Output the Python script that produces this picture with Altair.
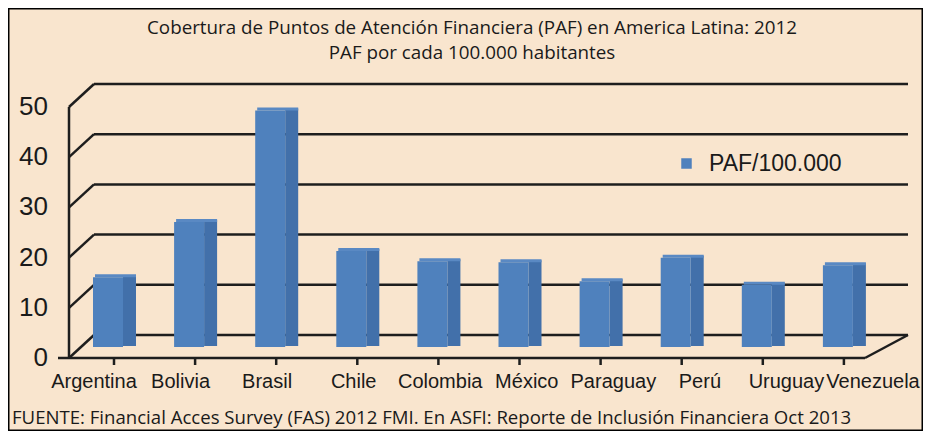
import altair as alt
import pandas as pd

# ---------------- data ----------------
paises = ["Argentina", "Bolivia", "Brasil", "Chile", "Colombia",
          "México", "Paraguay", "Perú", "Uruguay", "Venezuela"]
valores = [13.9, 24.9, 47.1, 19.1, 17.1, 16.9, 13.1, 17.8, 12.4, 16.3]
serie = "PAF/100.000"
y_ticks = [0, 10, 20, 30, 40, 50]
titulo_1 = "Cobertura de Puntos de Atención Financiera (PAF) en America Latina: 2012"
titulo_2 = "PAF por cada 100.000 habitantes"
fuente = "FUENTE: Financial Acces Survey (FAS) 2012 FMI. En ASFI: Reporte de Inclusión Financiera Oct 2013"

bars_df = pd.DataFrame({"pais": paises, "valor": valores,
                        "idx": list(range(len(paises))), "serie": serie})
grid_df = pd.DataFrame({"v": y_ticks})
one = pd.DataFrame({"k": [0]})

# ---------------- layout ----------------
W, H = 915, 423
BG = "#F9E5CE"
LINE = "#1e1e1e"
FRONT = "#4F81BD"
SIDE = "#4270AA"
TOP = "#5A89C3"
AX_FONT = "Liberation Sans"
TXT_FONT = "Open Sans"

def YS():
    return alt.Scale(domain=[0, 50], range=[350, 99])

def FX():  # front edge of the floor
    return alt.Scale(domain=[0, 10], range=[61, 857])

def BX():  # bar slots
    return alt.Scale(domain=[0, 10], range=[85, 896])

def LX():  # category labels
    return alt.Scale(domain=[0, 9], range=[86, 865])

DX_L, DX_R, DY = 25, 43, -23

back_grid = alt.Chart(grid_df).mark_rule(
    color=LINE, strokeWidth=2.5, xOffset=DX_L, x2Offset=DX_R, yOffset=DY, y2Offset=DY
).encode(
    x=alt.X(datum=0, scale=FX(), axis=None), x2=alt.X2(datum=10),
    y=alt.Y("v:Q", scale=YS(), axis=None), y2="v:Q",
)

left_diag = alt.Chart(grid_df).mark_rule(
    color=LINE, strokeWidth=2.5, x2Offset=DX_L, y2Offset=DY
).encode(
    x=alt.X(datum=0, scale=FX(), axis=None), x2=alt.X2(datum=0),
    y=alt.Y("v:Q", scale=YS(), axis=None), y2="v:Q",
)

front_axis = alt.Chart(one).mark_rule(color=LINE, strokeWidth=2.5).encode(
    x=alt.X(datum=0, scale=FX(), axis=None),
    y=alt.Y(datum=0, scale=YS(), axis=None), y2=alt.Y2(datum=50),
)

floor_front = alt.Chart(one).mark_rule(color=LINE, strokeWidth=2.5, xOffset=-11).encode(
    x=alt.X(datum=0, scale=FX(), axis=None), x2=alt.X2(datum=10),
    y=alt.Y(datum=0, scale=YS(), axis=None),
)

floor_right = alt.Chart(one).mark_rule(
    color=LINE, strokeWidth=2.5, x2Offset=DX_R, y2Offset=DY
).encode(
    x=alt.X(datum=10, scale=FX(), axis=None), x2=alt.X2(datum=10),
    y=alt.Y(datum=0, scale=YS(), axis=None), y2=alt.Y2(datum=0),
)

y_labels = alt.Chart(grid_df).mark_text(
    align="right", baseline="middle", xOffset=-21, fontSize=26, font=AX_FONT, color="#1a1a1a"
).encode(
    x=alt.X(datum=0, scale=FX(), axis=None),
    y=alt.Y("v:Q", scale=YS(), axis=None),
    text=alt.Text("v:Q"),
)

bar_side = alt.Chart(bars_df).mark_rect(
    color=SIDE, xOffset=30, x2Offset=43, yOffset=-13, y2Offset=-12
).encode(
    x=alt.X("idx:Q", scale=BX(), axis=None), x2="idx:Q",
    y=alt.Y("valor:Q", scale=YS(), axis=None), y2=alt.Y2(datum=0),
)

bar_top = alt.Chart(bars_df).mark_rect(
    color=TOP, xOffset=2, x2Offset=43, yOffset=-14, y2Offset=-11
).encode(
    x=alt.X("idx:Q", scale=BX(), axis=None), x2="idx:Q",
    y=alt.Y("valor:Q", scale=YS(), axis=None), y2="valor:Q",
)

bar_front = alt.Chart(bars_df).mark_rect(
    x2Offset=30, yOffset=-11, y2Offset=-11
).encode(
    x=alt.X("idx:Q", scale=BX(), axis=None), x2="idx:Q",
    y=alt.Y("valor:Q", scale=YS(), axis=None), y2=alt.Y2(datum=0),
    color=alt.Color(
        "serie:N",
        scale=alt.Scale(domain=[serie], range=[FRONT]),
        legend=alt.Legend(
            title=None, orient="none", legendX=667, legendY=144, padding=0,
            symbolType="square", symbolSize=110, symbolStrokeWidth=0,
            labelFontSize=23, labelFont=AX_FONT, labelColor="#1a1a1a", labelOffset=11,
        ),
    ),
)

cat_ticks = alt.Chart(bars_df).mark_rule(color=LINE, strokeWidth=2.5, xOffset=21, y2Offset=7).encode(
    x=alt.X("idx:Q", scale=BX(), axis=None),
    y=alt.Y(datum=0, scale=YS(), axis=None), y2=alt.Y2(datum=0),
)

cat_labels = alt.Chart(bars_df).mark_text(
    baseline="middle", yOffset=24, fontSize=20, font=AX_FONT, color="#1a1a1a"
).encode(
    x=alt.X("idx:Q", scale=LX(), axis=None),
    y=alt.Y(datum=0, scale=YS(), axis=None),
    text="pais:N",
)

t1 = alt.Chart(one).mark_text(
    text=titulo_1, fontSize=18.8, font=TXT_FONT, color="#1a1a1a", baseline="middle"
).encode(x=alt.value(464), y=alt.value(20))

t2 = alt.Chart(one).mark_text(
    text=titulo_2, fontSize=18.8, font=TXT_FONT, color="#1a1a1a", baseline="middle"
).encode(x=alt.value(464), y=alt.value(45))

foot = alt.Chart(one).mark_text(
    text=fuente, fontSize=18.6, font=TXT_FONT, color="#1a1a1a", baseline="middle", align="left"
).encode(x=alt.value(4), y=alt.value(410))

chart = alt.layer(
    back_grid, left_diag, front_axis, floor_front, floor_right,
    bar_side, bar_top, bar_front, cat_ticks, y_labels, cat_labels, t1, t2, foot,
).resolve_scale(x="independent").properties(
    width=W, height=H, padding=0, autosize=alt.AutoSizeParams(type="none"),
).configure_view(stroke="black", strokeWidth=3, fill=BG)

chart.save("out.html", embed_options={"renderer": "svg", "actions": False})
